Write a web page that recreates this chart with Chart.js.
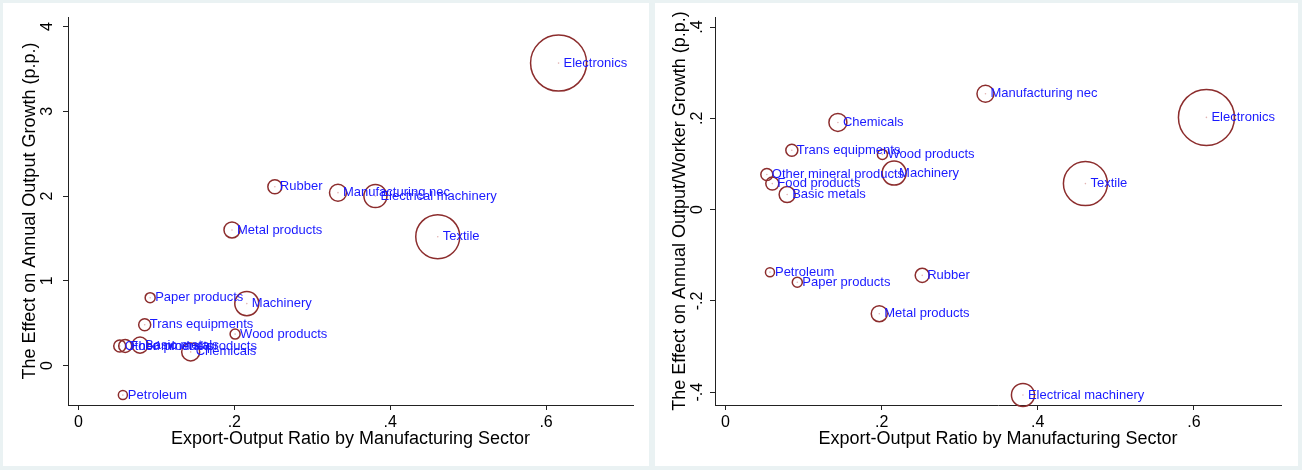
<!DOCTYPE html>
<html>
<head>
<meta charset="utf-8">
<script src="https://cdn.jsdelivr.net/npm/chart.js@4.4.1/dist/chart.umd.min.js"></script>
<style>
  html, body { margin: 0; padding: 0; background: #eaf2f3; }
  #wrap { position: relative; width: 1302px; height: 470px; background: #eaf2f3; overflow: hidden; }
  .panel { position: absolute; top: 3px; height: 463px; background: #ffffff; }
  #p1 { left: 3px; width: 646px; }
  #p2 { left: 655px; width: 643px; }
  canvas { display: block; }
</style>
</head>
<body>
<div id="wrap">
  <div class="panel" id="p1"><canvas id="c1" width="646" height="463"></canvas></div>
  <div class="panel" id="p2"><canvas id="c2" width="643" height="463"></canvas></div>
</div>
<script>
// Manufacturing sectors
const sectors = [
  "Electronics", "Rubber", "Manufacturing nec", "Electrical machinery", "Metal products",
  "Textile", "Paper products", "Machinery", "Trans equipments", "Wood products",
  "Other mineral products", "Food products", "Basic metals", "Chemicals", "Petroleum"
];

// Export-output ratio of each sector
const exportRatio = [
  0.616, 0.252, 0.333, 0.381, 0.197,
  0.461, 0.092, 0.216, 0.085, 0.201,
  0.053, 0.060, 0.079, 0.144, 0.057
];

// Effect on annual output growth (p.p.)
const outputEffect = [
  3.57, 2.11, 2.04, 2.00, 1.60,
  1.52, 0.80, 0.73, 0.48, 0.37,
  0.23, 0.23, 0.24, 0.16, -0.35
];

// Effect on annual output/worker growth (p.p.)
const productivityEffect = [
  0.202, -0.144, 0.254, -0.406, -0.228,
  0.057, -0.159, 0.080, 0.130, 0.121,
  0.077, 0.057, 0.033, 0.191, -0.137
];

// Relative sector weight (bubble area, Electronics = 100)
const sectorWeight = [
  100, 6.3, 9.2, 16.9, 8.2,
  61.7, 3.2, 18.4, 4.6, 3.2,
  4.6, 5.4, 8.2, 10.3, 2.6
];

// Axis tick labels
const xTicks = [0, 0.2, 0.4, 0.6];
const outputTicks = [0, 1, 2, 3, 4];
const productivityTicks = [-0.4, -0.2, 0, 0.2, 0.4];

const FONT = '"Liberation Sans", Arial, Helvetica, sans-serif';
const AXIS_COLOR = '#222222';
const MAX_RADIUS = 28;

Chart.defaults.font.family = FONT;
Chart.defaults.color = '#000000';

// Stata-style numbers: drop the leading zero (.2, -.4)
function fmt(v) {
  const s = String(+v.toFixed(2));
  return s.replace(/^(-?)0\./, '$1.');
}

// Sector names to the right of each bubble centre
const sectorLabels = {
  id: 'sectorLabels',
  afterDatasetsDraw(chart) {
    const ctx = chart.ctx;
    const meta = chart.getDatasetMeta(0);
    ctx.save();
    ctx.font = '13px ' + FONT;
    ctx.fillStyle = '#1a1aff';
    ctx.textAlign = 'left';
    ctx.textBaseline = 'middle';
    meta.data.forEach((el, i) => {
      ctx.fillText(sectors[i], el.x + 5, el.y);
    });
    ctx.restore();
  }
};

// Vertical (rotated) tick labels on the y axis
const rotatedYTicks = {
  id: 'rotatedYTicks',
  afterDraw(chart, args, opts) {
    const s = chart.scales.y;
    const ctx = chart.ctx;
    ctx.save();
    ctx.font = '16px ' + FONT;
    ctx.fillStyle = '#000000';
    ctx.textAlign = 'center';
    ctx.textBaseline = 'middle';
    s.ticks.forEach(t => {
      const py = s.getPixelForValue(t.value);
      ctx.save();
      ctx.translate(s.right - opts.gap, py);
      ctx.rotate(-Math.PI / 2);
      ctx.fillText(fmt(t.value), 0, 0);
      ctx.restore();
    });
    ctx.restore();
  }
};

function makePanel(id, yValues, yTicks, yMin, yMax, yTitle, geo) {
  const bubbles = exportRatio.map((x, i) => ({
    x: x,
    y: yValues[i],
    r: MAX_RADIUS * Math.sqrt(sectorWeight[i] / 100)
  }));
  const centres = exportRatio.map((x, i) => ({ x: x, y: yValues[i] }));

  const axisGrid = {
    display: true,
    drawOnChartArea: false,
    drawTicks: true,
    tickLength: 5,
    color: AXIS_COLOR,
    lineWidth: 1
  };

  return new Chart(document.getElementById(id), {
    type: 'bubble',
    data: {
      datasets: [
        {
          data: bubbles,
          backgroundColor: 'rgba(0,0,0,0)',
          borderColor: '#8c2d2d',
          borderWidth: 1.5,
          clip: false
        },
        {
          type: 'scatter',
          data: centres,
          pointRadius: 0.8,
          pointBackgroundColor: '#e2b4b4',
          pointBorderWidth: 0,
          clip: false
        }
      ]
    },
    options: {
      responsive: false,
      animation: false,
      devicePixelRatio: 1,
      events: [],
      layout: {
        autoPadding: false,
        padding: { top: 14, right: geo.width - geo.plotRight, bottom: 0, left: 0 }
      },
      plugins: {
        legend: { display: false },
        tooltip: { enabled: false },
        rotatedYTicks: { gap: geo.tickGap }
      },
      scales: {
        x: {
          type: 'linear',
          min: -0.0134,
          max: 0.7115,
          afterBuildTicks: s => { s.ticks = xTicks.map(v => ({ value: v })); },
          afterFit: s => { s.height = 61; },
          grid: axisGrid,
          border: { display: true, color: AXIS_COLOR, width: 1 },
          ticks: {
            callback: v => fmt(v),
            font: { size: 16 },
            color: '#000000',
            padding: 3,
            maxRotation: 0,
            autoSkip: false
          },
          title: {
            display: true,
            text: 'Export-Output Ratio by Manufacturing Sector',
            font: { size: 18 },
            color: '#000000',
            padding: { top: 0, bottom: 16 }
          }
        },
        y: {
          type: 'linear',
          min: yMin,
          max: yMax,
          afterBuildTicks: s => { s.ticks = yTicks.map(v => ({ value: v })); },
          afterFit: s => { s.width = geo.plotLeft; },
          grid: axisGrid,
          border: { display: true, color: AXIS_COLOR, width: 1 },
          ticks: { display: false },
          title: {
            display: true,
            text: yTitle,
            font: { size: 18 },
            color: '#000000',
            padding: { top: geo.titlePad, bottom: 0 }
          }
        }
      }
    },
    plugins: [sectorLabels, rotatedYTicks]
  });
}

makePanel('c1', outputEffect, outputTicks, -0.467, 4.114,
  'The Effect on Annual Output Growth (p.p.)',
  { width: 646, plotLeft: 65, plotRight: 630, tickGap: 20, titlePad: 16 });

makePanel('c2', productivityEffect, productivityTicks, -0.428, 0.422,
  'The Effect on Annual Output/Worker Growth (p.p.)',
  { width: 643, plotLeft: 60, plotRight: 626, tickGap: 17, titlePad: 14 });
</script>
</body>
</html>
